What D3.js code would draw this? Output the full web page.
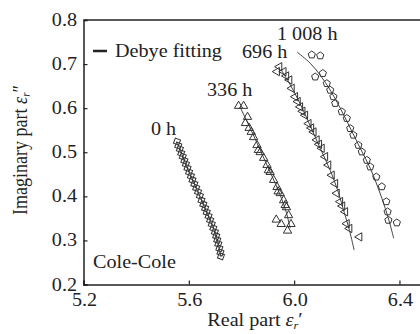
<!DOCTYPE html>
<html><head><meta charset="utf-8">
<script src="https://cdn.jsdelivr.net/npm/d3@7"></script>
<style>
html,body{margin:0;padding:0;background:#fff;}
svg{display:block;}
text{font-family:"Liberation Serif","Times New Roman",serif;fill:#222;}
</style></head>
<body>
<svg id="chart" width="420" height="334"></svg>
<script>
// ---- data ----
const xTicks = [5.2, 5.6, 6.0, 6.4];
const yTicks = [0.2, 0.3, 0.4, 0.5, 0.6, 0.7, 0.8];
const xTickLabels = ["5.2", "5.6", "6.0", "6.4"];
const yTickLabels = ["0.2", "0.3", "0.4", "0.5", "0.6", "0.7", "0.8"];
const seriesNames = ["0 h", "336 h", "696 h", "1 008 h"];

const data0h_x = [5.555,5.560,5.566,5.571,5.577,5.583,5.589,5.595,5.601,5.608,5.614,5.621,5.628,5.635,5.642,5.648,5.655,5.662,5.668,5.675,5.681,5.687,5.693,5.699,5.704,5.708,5.712,5.716,5.720,5.722];
const data0h_y = [0.524,0.515,0.507,0.498,0.490,0.481,0.473,0.464,0.455,0.446,0.437,0.428,0.419,0.410,0.401,0.391,0.382,0.373,0.364,0.355,0.346,0.337,0.328,0.319,0.310,0.301,0.292,0.282,0.273,0.264];

const data336_x = [5.789,5.808,5.823,5.815,5.829,5.837,5.846,5.859,5.864,5.871,5.884,5.897,5.902,5.909,5.922,5.935,5.939,5.947,5.960,5.966,5.971,5.979,5.988,5.975,5.951,5.932];
const data336_y = [0.605,0.605,0.580,0.566,0.555,0.546,0.534,0.516,0.505,0.500,0.487,0.471,0.459,0.455,0.437,0.421,0.411,0.407,0.391,0.380,0.375,0.357,0.337,0.322,0.337,0.347];

const data696_x = [5.944,5.935,5.960,5.970,5.982,5.991,6.004,6.014,6.023,6.032,6.042,6.055,6.065,6.074,6.086,6.095,6.105,6.118,6.130,6.143,6.156,6.162,6.175,6.183,6.194,6.200,6.210,6.248];
const data696_y = [0.694,0.683,0.683,0.673,0.664,0.645,0.626,0.615,0.603,0.593,0.584,0.565,0.555,0.546,0.528,0.518,0.509,0.490,0.471,0.448,0.429,0.407,0.388,0.378,0.365,0.338,0.327,0.308];

const data1008_x = [6.067,6.099,6.080,6.109,6.124,6.137,6.149,6.156,6.181,6.200,6.213,6.225,6.244,6.257,6.276,6.289,6.312,6.333,6.350,6.355,6.358,6.390];
const data1008_y = [0.721,0.719,0.671,0.679,0.656,0.641,0.626,0.611,0.592,0.577,0.554,0.539,0.516,0.501,0.482,0.467,0.444,0.422,0.388,0.365,0.346,0.340];

// Debye fitting curves
const fit0h_x = [5.555,5.577,5.601,5.628,5.655,5.681,5.699,5.712,5.722];
const fit0h_y = [0.524,0.490,0.455,0.419,0.382,0.346,0.319,0.292,0.262];
const fit336_x = [5.795,5.833,5.871,5.909,5.947,5.970,5.985];
const fit336_y = [0.602,0.555,0.505,0.455,0.403,0.364,0.328];
const fit696_x = [5.951,5.985,6.023,6.061,6.099,6.137,6.168,6.190,6.210,6.228];
const fit696_y = [0.687,0.653,0.610,0.560,0.509,0.459,0.409,0.364,0.323,0.278];
const fit1008_x = [6.012,6.061,6.099,6.137,6.175,6.213,6.251,6.289,6.319,6.346,6.365,6.378];
const fit1008_y = [0.727,0.702,0.675,0.641,0.600,0.555,0.509,0.464,0.419,0.373,0.335,0.305];

// ---- drawing ----
const svg = d3.select("#chart");
const mLeft = 83.5, mTop = 20, mBottom = 284.5;
const x = d3.scaleLinear().domain([5.2, 6.5]).range([mLeft, mLeft + 1.3 * 263.3]);
const y = d3.scaleLinear().domain([0.2, 0.8]).range([mBottom, mTop]);
const SX = 1.12;
const ink = "#222";

// frame: left, bottom, top
svg.append("line").attr("x1", mLeft).attr("x2", 420).attr("y1", mTop).attr("y2", mTop).attr("stroke", ink).attr("stroke-width", 1.5);

const xAxis = d3.axisBottom(x).tickValues(xTicks).tickSize(-4).tickFormat(() => "");
const gx = svg.append("g").attr("transform", `translate(0,${mBottom})`).call(xAxis);
gx.select(".domain").attr("stroke", ink).attr("stroke-width", 1.5);
gx.selectAll(".tick line").attr("stroke", ink).attr("stroke-width", 1.2);

const yAxis = d3.axisLeft(y).tickValues(yTicks).tickSize(-4).tickFormat(() => "");
const gy = svg.append("g").attr("transform", `translate(${mLeft},0)`).call(yAxis);
gy.select(".domain").attr("stroke", ink).attr("stroke-width", 1.5);
gy.selectAll(".tick line").attr("stroke", ink).attr("stroke-width", 1.2);

function stext(px, py, str, anchor) {
  const g = svg.append("g").attr("transform", `translate(${px},${py}) scale(${SX},1)`);
  return g.append("text").attr("text-anchor", anchor || "start").attr("font-size", 18).text(str);
}
xTicks.forEach((v, i) => stext(x(v) + 1, 306, xTickLabels[i], "middle"));
yTicks.forEach((v, i) => stext(77, y(v) + 6, yTickLabels[i], "end"));

// axis titles
{
  const g = svg.append("g").attr("transform", `translate(255,326) scale(${SX},1)`);
  const t = g.append("text").attr("text-anchor", "middle").attr("font-size", 18);
  t.append("tspan").text("Real part ");
  t.append("tspan").attr("font-style", "italic").text("ε");
  t.append("tspan").attr("font-style", "italic").attr("font-size", 11).attr("dy", 3).text("r");
  t.append("tspan").attr("dy", -3).text("′");
}
{
  const g = svg.append("g").attr("transform", `translate(27,150) rotate(-90) scale(1,${SX})`);
  const t = g.append("text").attr("text-anchor", "middle").attr("font-size", 18);
  t.append("tspan").text("Imaginary part ");
  t.append("tspan").attr("font-style", "italic").text("ε");
  t.append("tspan").attr("font-style", "italic").attr("font-size", 11).attr("dy", 3).text("r");
  t.append("tspan").attr("dy", -3).text("″");
}

// fit lines
const line = d3.line().x(d => x(d[0])).y(d => y(d[1])).curve(d3.curveCatmullRom);
const fits = [[fit0h_x, fit0h_y], [fit336_x, fit336_y], [fit696_x, fit696_y], [fit1008_x, fit1008_y]];
fits.forEach(([fx, fy]) => {
  svg.append("path").datum(fx.map((v, i) => [v, fy[i]])).attr("d", line)
    .attr("fill", "none").attr("stroke", "#444").attr("stroke-width", 1);
});

// markers
const pentagon = (() => {
  const r = 3.8, pts = d3.range(5).map(k => {
    const a = -Math.PI / 2 + k * 2 * Math.PI / 5;
    return [r * Math.cos(a), r * Math.sin(a)];
  });
  return "M" + pts.map(p => p.join(",")).join("L") + "Z";
})();
const markers = [
  { xs: data0h_x, ys: data0h_y, path: d3.symbol(d3.symbolSquare, 30)(), rot: 20 },
  { xs: data336_x, ys: data336_y, path: d3.symbol(d3.symbolTriangle, 30)(), rot: 0 },
  { xs: data696_x, ys: data696_y, path: d3.symbol(d3.symbolTriangle, 30)(), rot: -90 },
  { xs: data1008_x, ys: data1008_y, path: pentagon, rot: 0 }
];
markers.forEach(m => {
  svg.append("g").selectAll("path").data(m.xs.map((v, i) => [v, m.ys[i]])).join("path")
    .attr("d", m.path)
    .attr("transform", d => `translate(${x(d[0])},${y(d[1])}) rotate(${m.rot})`)
    .attr("fill", "none").attr("stroke", "#333").attr("stroke-width", 1);
});

// series labels
const labelPos = [[151, 135], [207, 96], [242, 58], [277, 40]];
seriesNames.forEach((s, i) => stext(labelPos[i][0], labelPos[i][1], s, "start"));

// legend
svg.append("line").attr("x1", 93).attr("x2", 107).attr("y1", 51).attr("y2", 51).attr("stroke", ink).attr("stroke-width", 2.5);
stext(115, 57, "Debye fitting", "start");

// Cole-Cole label
stext(93, 268, "Cole-Cole", "start");
</script>
</body></html>
